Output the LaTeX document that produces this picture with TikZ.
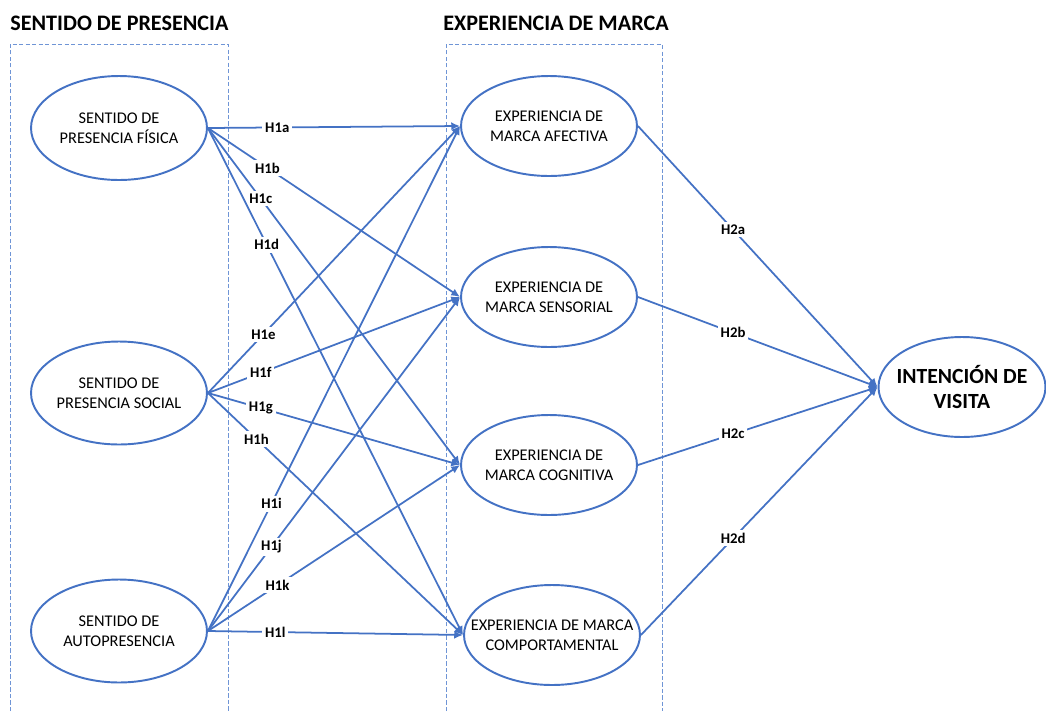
\documentclass[tikz,border=0pt]{standalone}
\usepackage{fontspec}
\setmainfont{Carlito}
\usepackage{tikz}
\usetikzlibrary{arrows.meta, shapes.geometric, calc}
\definecolor{azul}{HTML}{4472C4}
\definecolor{azulcaja}{HTML}{6F95D6}

\tikzset{
    var/.style={ellipse, draw=azul, line width=1.1pt, inner sep=0pt},
    txt/.style={align=center, inner sep=0pt, font=\fontsize{9.3}{11.4}\selectfont},
    flecha/.style={draw=azul, line width=1pt, -{Latex[length=5pt, width=4.5pt]}},
    hip/.style={fill=white, inner sep=1.6pt, font=\fontsize{8.4}{10}\selectfont\bfseries},
    caja/.style={draw=azulcaja, line width=0.5pt, dash pattern=on 2.5pt off 1.2pt},
    titulo/.style={anchor=west, inner sep=0pt, font=\fontsize{12.6}{15}\selectfont\bfseries}
}

\begin{document}
\begin{tikzpicture}[x=0.02cm, y=-0.02cm]
    \useasboundingbox (0,0) rectangle (1046,711);

    % bloques
    \node[titulo] (tsen) at (10,23) {SENTIDO DE PRESENCIA};
    \node[titulo] (texp) at (443,23) {EXPERIENCIA DE MARCA};
    \draw[caja] (10,711)--(10,44)--(228,44)--(228,711);
    \draw[caja] (446,711)--(446,44)--(662,44)--(662,711);

    % variables
    \node[var, minimum width=3.52cm, minimum height=2.08cm] (fis) at (119,128) {};
    \node[var, minimum width=3.52cm, minimum height=2.06cm] (soc) at (119,393) {};
    \node[var, minimum width=3.52cm, minimum height=2.06cm] (aut) at (119,631) {};
    \node[txt] (fis-t) at (fis) {SENTIDO DE\\PRESENCIA FÍSICA};
    \node[txt] (soc-t) at (soc) {SENTIDO DE\\PRESENCIA SOCIAL};
    \node[txt] (aut-t) at (aut) {SENTIDO DE\\AUTOPRESENCIA};

    \node[var, minimum width=3.52cm, minimum height=2.0cm] (afe) at (549,126) {};
    \node[var, minimum width=3.52cm, minimum height=2.0cm] (sen) at (549,297) {};
    \node[var, minimum width=3.52cm, minimum height=2.0cm] (cog) at (549,465) {};
    \node[var, minimum width=3.52cm, minimum height=2.0cm] (com) at (552,635) {};
    \node[txt] (afe-t) at (afe) {EXPERIENCIA DE\\MARCA AFECTIVA};
    \node[txt] (sen-t) at (sen) {EXPERIENCIA DE\\MARCA SENSORIAL};
    \node[txt] (cog-t) at (cog) {EXPERIENCIA DE\\MARCA COGNITIVA};
    \node[txt] (com-t) at (com) {EXPERIENCIA DE MARCA\\COMPORTAMENTAL};

    \node[var, minimum width=3.34cm, minimum height=2.0cm] (int) at (962,387) {};
    \node[txt, font=\fontsize{12.3}{14.7}\selectfont\bfseries] (int-t) at (int) {INTENCIÓN DE\\VISITA};

    % hipotesis
    \foreach \s/\t/\h/\p in {fis/afe/H1a/0.275, fis/sen/H1b/0.236, fis/cog/H1c/0.21, fis/com/H1d/0.23,
                             soc/afe/H1e/0.22, soc/sen/H1f/0.21, soc/cog/H1g/0.21, soc/com/H1h/0.19,
                             aut/afe/H1i/0.252, aut/sen/H1j/0.252, aut/cog/H1k/0.276, aut/com/H1l/0.264} {
        \draw[flecha] (\s.east) -- node[hip, pos=\p] (\h) {\h} (\t.west);
    }
    \foreach \s/\h/\p in {afe/H2a/0.397, sen/H2b/0.397, cog/H2c/0.397, com/H2d/0.39} {
        \draw[flecha] (\s.east) -- node[hip, pos=\p] (\h) {\h} (int.west);
    }
\end{tikzpicture}
\end{document}
